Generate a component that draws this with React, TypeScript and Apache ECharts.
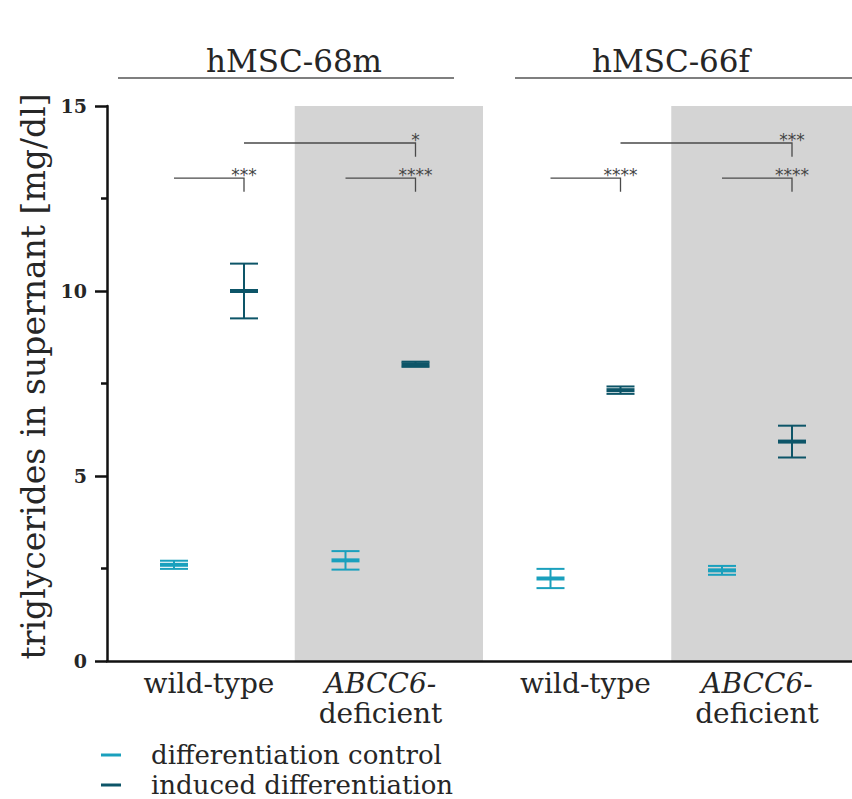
import React, { useEffect, useRef } from "react";
import * as echarts from "echarts";

// ---- data ----
const groups = ["hMSC-68m", "hMSC-66f"];
const genotypes = ["wild-type", "ABCC6-deficient"];
const conditions = ["differentiation control", "induced differentiation"];
// order: 68m WT, 68m ABCC6, 66f WT, 66f ABCC6
const controlMean = [2.6, 2.72, 2.23, 2.45];
const controlErr = [0.11, 0.25, 0.26, 0.12];
const inducedMean = [10.0, 8.02, 7.32, 5.93];
const inducedErr = [0.74, 0.07, 0.1, 0.43];
const sigWithin = ["***", "****", "****", "****"];
const sigBetween = ["*", "***"];
const yTicks = [0, 5, 10, 15];

// ---- layout ----
const X0 = 67, COND = 70, GENO = 171.5, GROUP = 376.5, XMAX = 745;
const posX = (g: number, k: number, c: number) => X0 + g * GROUP + k * GENO + c * COND;
const SIG_LOW = 13.05, SIG_HIGH = 14.0, SIG_DROP = 0.37;
const COLORS = ["#1aa0bd", "#0d5568"];
const FONT = "DejaVu Serif";
const TXT = "#262626";

export default function App() {
  const ref = useRef<HTMLDivElement>(null);
  useEffect(() => {
    const chart = echarts.init(ref.current!, null, { renderer: "svg" });

    const barData = (means: number[], errs: number[], c: number) =>
      means.map((m, i) => {
        const g = Math.floor(i / 2), k = i % 2;
        return [posX(g, k, c), m, m - errs[i], m + errs[i]];
      });

    const bands: number[][] = [0, 1].map((g) => {
      const start = (posX(g, 0, 1) + posX(g, 1, 0)) / 2;
      const end = g === 0 ? (posX(0, 1, 1) + posX(1, 0, 0)) / 2 : XMAX;
      return [start, end];
    });

    const sigItems: { x1: number; x2: number; y: number; label: string }[] = [];
    for (let i = 0; i < 4; i++) {
      const g = Math.floor(i / 2), k = i % 2;
      sigItems.push({ x1: posX(g, k, 0), x2: posX(g, k, 1), y: SIG_LOW, label: sigWithin[i] });
    }
    for (let g = 0; g < 2; g++) {
      sigItems.push({ x1: posX(g, 0, 1), x2: posX(g, 1, 1), y: SIG_HIGH, label: sigBetween[g] });
    }

    const labelCenters = [0, 1, 2, 3].map((i) => {
      const g = Math.floor(i / 2), k = i % 2;
      return (posX(g, k, 0) + posX(g, k, 1)) / 2;
    });
    const labelFor = (v: number) => {
      const idx = labelCenters.findIndex((c) => Math.abs(c - v) < 1);
      if (idx < 0) return "";
      const gt = genotypes[idx % 2];
      if (gt.startsWith("ABCC6")) return "{it|ABCC6-}\ndeficient";
      return gt;
    };

    const errorRender = (color: string) => (params: any, api: any) => {
      const x = api.value(0), m = api.value(1), lo = api.value(2), hi = api.value(3);
      const pm = api.coord([x, m]);
      const pl = api.coord([x, lo]);
      const ph = api.coord([x, hi]);
      const w = 14;
      return {
        type: "group",
        children: [
          { type: "line", shape: { x1: pm[0], y1: pl[1], x2: pm[0], y2: ph[1] }, style: { stroke: color, lineWidth: 2 } },
          { type: "line", shape: { x1: pm[0] - w, y1: ph[1], x2: pm[0] + w, y2: ph[1] }, style: { stroke: color, lineWidth: 2 } },
          { type: "line", shape: { x1: pm[0] - w, y1: pl[1], x2: pm[0] + w, y2: pl[1] }, style: { stroke: color, lineWidth: 2 } },
          { type: "line", shape: { x1: pm[0] - w, y1: pm[1], x2: pm[0] + w, y2: pm[1] }, style: { stroke: color, lineWidth: 4 } },
        ],
      };
    };

    const headerLines = [
      { x1: 118, x2: 454, cx: 294 },
      { x1: 515, x2: 860, cx: 671 },
    ];

    chart.setOption({
      animation: false,
      backgroundColor: "#ffffff",
      grid: { left: 107, top: 106, right: 0, bottom: 138, containLabel: false },
      xAxis: {
        type: "value",
        min: 0,
        max: XMAX,
        splitLine: { show: false },
        axisTick: { show: false },
        axisLine: { show: true, lineStyle: { color: "#111", width: 2.5 } },
        axisLabel: {
          show: true,
          customValues: labelCenters,
          formatter: (v: number) => labelFor(v),
          margin: 7,
          color: TXT,
          fontFamily: FONT,
          fontSize: 28,
          lineHeight: 30,
          rich: { it: { fontStyle: "italic", fontFamily: FONT, fontSize: 28, color: TXT, lineHeight: 30 } },
        },
      },
      yAxis: {
        type: "value",
        min: 0,
        max: 15,
        interval: 5,
        name: "triglycerides in supernant [mg/dl]",
        nameLocation: "middle",
        nameGap: 52,
        nameTextStyle: { fontFamily: FONT, fontSize: 33, color: TXT, padding: [0, 0, 0, 14] },
        splitLine: { show: false },
        axisLine: { show: true, lineStyle: { color: "#111", width: 2.5 } },
        axisTick: { show: true, length: 12, lineStyle: { color: "#111", width: 2.5 } },
        minorTick: { show: true, splitNumber: 2, length: 6, lineStyle: { color: "#111", width: 2.5 } },
        axisLabel: {
          margin: 20,
          color: TXT,
          fontFamily: FONT,
          fontWeight: "bold",
          fontSize: 19,
          customValues: yTicks,
        },
      },
      legend: {
        orient: "vertical",
        left: 101,
        top: 742,
        height: 70,
        padding: 0,
        itemWidth: 20,
        itemHeight: 3,
        itemGap: 4,
        data: conditions.map((c) => ({ name: c, icon: "rect" })),
        textStyle: { fontFamily: FONT, fontSize: 26, color: TXT, padding: [0, 0, 0, 25], lineHeight: 26 },
      },
      graphic: [
        ...headerLines.map((h) => ({
          type: "line",
          shape: { x1: h.x1, y1: 78, x2: h.x2, y2: 78 },
          style: { stroke: "#555", lineWidth: 1.5 },
        })),
        ...groups.map((name, g) => ({
          type: "text",
          x: headerLines[g].cx,
          y: 76,
          style: { text: name, fontFamily: FONT, fontSize: 31, fill: TXT, textAlign: "center", textVerticalAlign: "bottom" },
        })),
      ],
      series: [
        {
          type: "custom",
          name: "bands",
          silent: true,
          z: 0,
          data: bands,
          renderItem: (params: any, api: any) => {
            const a = api.coord([api.value(0), 15]);
            const b = api.coord([api.value(1), 0]);
            return { type: "rect", shape: { x: a[0], y: a[1], width: b[0] - a[0], height: b[1] - a[1] }, style: { fill: "#d4d4d4" } };
          },
        },
        {
          type: "custom",
          name: "sig",
          silent: true,
          z: 3,
          data: sigItems.map((s) => [s.x1, s.x2, s.y]),
          renderItem: (params: any, api: any) => {
            const s = sigItems[params.dataIndex];
            const p1 = api.coord([s.x1, s.y]);
            const p2 = api.coord([s.x2, s.y]);
            const p3 = api.coord([s.x2, s.y - SIG_DROP]);
            return {
              type: "group",
              children: [
                { type: "polyline", shape: { points: [p1, p2, p3] }, style: { stroke: "#4a4a4a", lineWidth: 1.3, fill: "none" } },
                {
                  type: "text",
                  x: p2[0],
                  y: p2[1] - 3,
                  style: { text: s.label, fontFamily: "DejaVu Sans", fontSize: 17, fill: "#444", textAlign: "center", textVerticalAlign: "middle" },
                },
              ],
            };
          },
        },
        {
          type: "custom",
          name: conditions[0],
          z: 5,
          itemStyle: { color: COLORS[0] },
          data: barData(controlMean, controlErr, 0),
          renderItem: errorRender(COLORS[0]),
        },
        {
          type: "custom",
          name: conditions[1],
          z: 5,
          itemStyle: { color: COLORS[1] },
          data: barData(inducedMean, inducedErr, 1),
          renderItem: errorRender(COLORS[1]),
        },
      ],
    });
    return () => chart.dispose();
  }, []);
  return <div ref={ref} style={{ position: "absolute", left: 0, top: 0, width: 852, height: 799 }} />;
}
